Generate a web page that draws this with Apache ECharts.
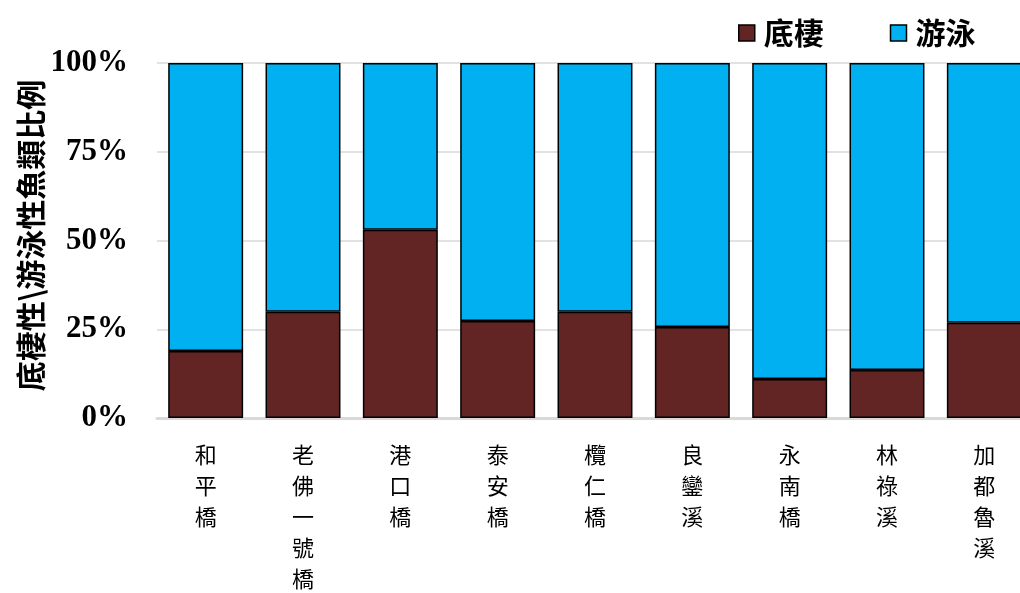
<!DOCTYPE html>
<html>
<head>
<meta charset="utf-8">
<script src="https://cdn.jsdelivr.net/npm/echarts@6/dist/echarts.min.js"></script>
<style>
html,body{margin:0;padding:0;background:#fff;}
#c{width:1020px;height:593px;}
</style>
</head>
<body>
<div id="c"></div>
<script>
const categories = ['和平橋','老佛一號橋','港口橋','泰安橋','欖仁橋','良鑾溪','永南橋','林祿溪','加都魯溪'];
const benthic = [18.9, 29.9, 53.0, 27.3, 29.9, 25.6, 11.0, 13.5, 26.8];
const swimming = benthic.map(v => +(100 - v).toFixed(1));
const seriesNames = ['底棲','游泳'];
const yTicks = [0, 25, 50, 75, 100];

const chart = echarts.init(document.getElementById('c'));
const cjk = '"Noto Sans CJK TC", "Noto Sans CJK SC", sans-serif';
chart.setOption({
  animation: false,
  backgroundColor: '#fff',
  legend: {
    top: 13, left: 733,
    icon: 'rect',
    itemWidth: 16, itemHeight: 16, itemGap: 66,
    textStyle: {fontFamily: cjk, fontWeight: 'bold', fontSize: 30, color: '#000', padding: [0,0,0,4]},
    data: seriesNames.map(n => ({name: n, itemStyle: {borderColor:'#000', borderWidth:1.5}}))
  },
  grid: {left: 157, right: -13, top: 63, bottom: 175, outerBoundsMode: 'none', containLabel: false},
  xAxis: {
    type: 'category', data: categories,
    axisLine: {lineStyle: {color: '#d9d9d9', width: 3}},
    axisTick: {show: false},
    axisLabel: {
      interval: 0, margin: 21,
      fontFamily: cjk, fontSize: 22, color: '#000', lineHeight: 31,
      formatter: v => v.split('').join('\n')
    }
  },
  yAxis: {
    type: 'value', min: 0, max: 100, interval: 25,
    name: '底棲性\\游泳性魚類比例', nameLocation: 'middle', nameGap: 111,
    nameMoveOverlap: false,
    nameTextStyle: {fontFamily: cjk, fontWeight: 'bold', fontSize: 30, color: '#000', padding: [0,0,0,10]},
    axisLine: {show: false},
    axisTick: {show: false},
    splitLine: {lineStyle: {color: '#d9d9d9', width: 1.5}},
    axisLabel: {
      margin: 29, fontFamily: '"Liberation Serif", "Times New Roman", serif',
      fontWeight: 'bold', fontSize: 31, color: '#000',
      formatter: v => yTicks.includes(v) ? v + '%' : ''
    }
  },
  series: [
    {name: seriesNames[0], type: 'bar', stack: 's', data: benthic, barCategoryGap: '23%',
     itemStyle: {color: '#632523', borderColor: '#000', borderWidth: 1.5}},
    {name: seriesNames[1], type: 'bar', stack: 's', data: swimming, barCategoryGap: '23%',
     itemStyle: {color: '#00B0F0', borderColor: '#000', borderWidth: 1.5}}
  ]
});
</script>
</body>
</html>
